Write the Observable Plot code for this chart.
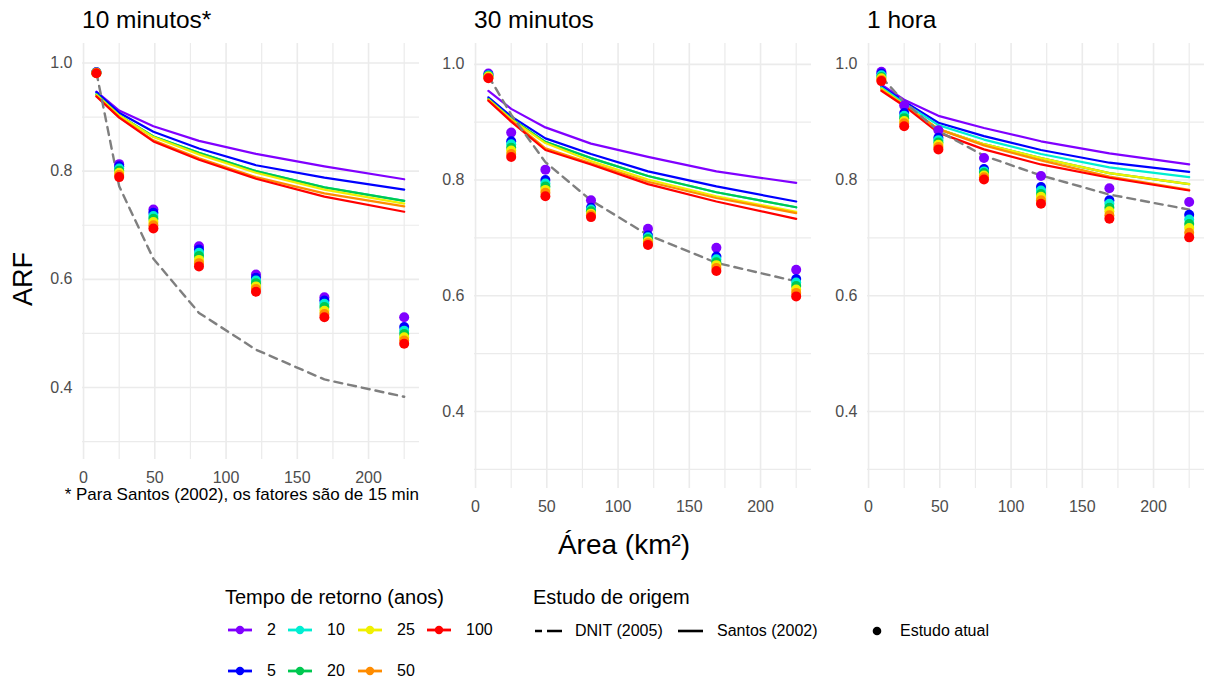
<!DOCTYPE html>
<html>
<head>
<meta charset="utf-8">
<script src="https://cdn.jsdelivr.net/npm/d3@7"></script>
<script src="https://cdn.jsdelivr.net/npm/@observablehq/plot@0.6"></script>
<style>
  html, body { margin: 0; padding: 0; background: #fff; }
  #chart { position: relative; width: 1206px; height: 684px; background: #fff; font-family: "Liberation Sans", Arial, sans-serif; overflow: hidden; }
  .abs { position: absolute; line-height: 1; white-space: nowrap; }
  .plotwrap { position: absolute; top: 0; }
</style>
</head>
<body>
<div id="chart"></div>
<script>
// ---------------- data ----------------
const areas = [9, 25, 49, 81, 121, 169, 225];
const returnPeriods = ["2", "5", "10", "20", "25", "50", "100"];
const rpColors = ["#8000FF", "#0000FF", "#00EED2", "#00C850", "#F0F000", "#FF8C00", "#FF0000"];
const panelTitles = ["10 minutos*", "30 minutos", "1 hora"];
const xMajorTicks = [0, 50, 100, 150, 200];
const xMinorTicks = [25, 75, 125, 175, 225];
const yMajorTicks = [0.4, 0.6, 0.8, 1.0];
const yMinorTicks = [0.3, 0.5, 0.7, 0.9];
const studyLabels = ["DNIT (2005)", "Santos (2002)", "Estudo atual"];

// Santos (2002): rows = return periods (2,5,10,20,25,50,100), columns = areas
const santos10 = [
  [0.947, 0.912, 0.883, 0.856, 0.832, 0.809, 0.785],
  [0.946, 0.908, 0.873, 0.842, 0.811, 0.788, 0.766],
  [0.942, 0.903, 0.864, 0.834, 0.800, 0.770, 0.745],
  [0.942, 0.903, 0.864, 0.834, 0.800, 0.770, 0.745],
  [0.941, 0.903, 0.863, 0.831, 0.797, 0.766, 0.740],
  [0.939, 0.900, 0.857, 0.824, 0.789, 0.759, 0.735],
  [0.938, 0.899, 0.855, 0.821, 0.786, 0.753, 0.725]
];
const santos30 = [
  [0.954, 0.923, 0.891, 0.863, 0.840, 0.815, 0.795],
  [0.943, 0.910, 0.872, 0.845, 0.815, 0.789, 0.763],
  [0.940, 0.906, 0.866, 0.838, 0.807, 0.779, 0.753],
  [0.940, 0.906, 0.866, 0.838, 0.807, 0.779, 0.753],
  [0.939, 0.905, 0.864, 0.833, 0.801, 0.772, 0.745],
  [0.938, 0.903, 0.855, 0.829, 0.797, 0.769, 0.743],
  [0.937, 0.901, 0.852, 0.827, 0.793, 0.763, 0.733]
];
const santos60 = [
  [0.965, 0.939, 0.911, 0.890, 0.867, 0.846, 0.827],
  [0.962, 0.936, 0.899, 0.876, 0.852, 0.830, 0.814],
  [0.960, 0.933, 0.895, 0.870, 0.845, 0.822, 0.805],
  [0.958, 0.930, 0.888, 0.862, 0.838, 0.812, 0.793],
  [0.958, 0.930, 0.888, 0.862, 0.838, 0.812, 0.793],
  [0.956, 0.929, 0.888, 0.860, 0.834, 0.806, 0.783],
  [0.954, 0.928, 0.882, 0.853, 0.827, 0.804, 0.782]
];

// DNIT (2005)
const dnit10 = [0.983, 0.772, 0.638, 0.538, 0.470, 0.415, 0.383];
const dnit30 = [0.980, 0.913, 0.831, 0.765, 0.705, 0.657, 0.625];
const dnit60 = [0.978, 0.935, 0.885, 0.842, 0.808, 0.775, 0.749];

// Estudo atual: rows = return periods, columns = areas
const atual10 = [
  [0.983, 0.813, 0.729, 0.661, 0.609, 0.567, 0.530],
  [0.983, 0.809, 0.723, 0.655, 0.603, 0.561, 0.512],
  [0.982, 0.805, 0.717, 0.649, 0.598, 0.555, 0.505],
  [0.982, 0.801, 0.712, 0.643, 0.593, 0.549, 0.499],
  [0.982, 0.797, 0.706, 0.636, 0.587, 0.542, 0.493],
  [0.981, 0.793, 0.700, 0.630, 0.582, 0.536, 0.487],
  [0.981, 0.789, 0.694, 0.624, 0.577, 0.530, 0.481]
];
const atual30 = [
  [0.984, 0.882, 0.818, 0.765, 0.716, 0.683, 0.645],
  [0.982, 0.867, 0.800, 0.752, 0.704, 0.668, 0.629],
  [0.981, 0.862, 0.794, 0.749, 0.701, 0.663, 0.623],
  [0.980, 0.856, 0.789, 0.746, 0.698, 0.658, 0.617],
  [0.979, 0.851, 0.783, 0.742, 0.694, 0.653, 0.611],
  [0.977, 0.845, 0.778, 0.739, 0.691, 0.648, 0.605],
  [0.976, 0.840, 0.772, 0.736, 0.688, 0.643, 0.599]
];
const atual60 = [
  [0.987, 0.929, 0.886, 0.838, 0.807, 0.786, 0.762],
  [0.984, 0.916, 0.873, 0.819, 0.788, 0.765, 0.740],
  [0.981, 0.911, 0.869, 0.815, 0.782, 0.759, 0.732],
  [0.978, 0.907, 0.865, 0.812, 0.776, 0.752, 0.724],
  [0.976, 0.902, 0.861, 0.808, 0.771, 0.746, 0.717],
  [0.973, 0.898, 0.857, 0.805, 0.765, 0.739, 0.709],
  [0.971, 0.893, 0.853, 0.801, 0.759, 0.733, 0.701]
];

// ---------------- build ----------------
const chart = document.getElementById("chart");
const FONT = '"Liberation Sans", Arial, sans-serif';

function toRows(matrix) {
  return returnPeriods.flatMap((T, j) => areas.map((a, k) => ({area: a, arf: matrix[j][k], T})));
}
function toLine(values) {
  return areas.map((a, k) => ({area: a, arf: values[k]}));
}

function makePanel(santos, dnit, atual, plotH) {
  const mL = 82, mT = 43, mB = 40;
  return Plot.plot({
    width: mL + 337,
    height: mT + plotH + mB,
    marginLeft: mL, marginRight: 0, marginTop: mT, marginBottom: mB,
    x: {domain: [-0.75, 235.75]},
    y: {domain: [0.267, 1.036]},
    color: {type: "ordinal", domain: returnPeriods, range: rpColors},
    style: {fontFamily: FONT, fontSize: "16px", color: "#4D4D4D", background: "transparent", overflow: "visible"},
    marks: [
      Plot.ruleX(xMinorTicks, {stroke: "#EBEBEB", strokeWidth: 1.2}),
      Plot.ruleX(xMajorTicks, {stroke: "#EBEBEB", strokeWidth: 1.6}),
      Plot.ruleY(yMinorTicks, {stroke: "#EBEBEB", strokeWidth: 1.2}),
      Plot.ruleY(yMajorTicks, {stroke: "#EBEBEB", strokeWidth: 1.6}),
      Plot.axisX({ticks: xMajorTicks, tickSize: 0, tickPadding: 12, label: null, fontSize: 16}),
      Plot.axisY({ticks: yMajorTicks, tickSize: 0, tickPadding: 10, label: null, fontSize: 16, tickFormat: d3.format(".1f")}),
      Plot.line(toRows(santos), {x: "area", y: "arf", z: "T", stroke: "T", strokeWidth: 2.2}),
      Plot.line(toLine(dnit), {x: "area", y: "arf", stroke: "#7F7F7F", strokeWidth: 2.4, strokeDasharray: "8,6"}),
      Plot.dot(toRows(atual), {x: "area", y: "arf", fill: "T", r: 5})
    ]
  });
}

const panels = [
  {left: 0, santos: santos10, dnit: dnit10, atual: atual10, h: 416},
  {left: 392, santos: santos30, dnit: dnit30, atual: atual30, h: 445},
  {left: 785, santos: santos60, dnit: dnit60, atual: atual60, h: 445}
];
panels.forEach((p, i) => {
  const wrap = document.createElement("div");
  wrap.className = "plotwrap";
  wrap.style.left = p.left + "px";
  wrap.appendChild(makePanel(p.santos, p.dnit, p.atual, p.h));
  chart.appendChild(wrap);
  const t = document.createElement("div");
  t.className = "abs";
  t.textContent = panelTitles[i];
  t.style.cssText += `left:${p.left + 82}px;top:8px;font-size:24.5px;color:#000;`;
  chart.appendChild(t);
});

function addText(txt, css) {
  const d = document.createElement("div");
  d.className = "abs";
  d.textContent = txt;
  d.style.cssText += css;
  chart.appendChild(d);
  return d;
}

// axis titles
addText("ARF", "left:23px;top:279px;font-size:27px;color:#000;transform:translate(-50%,-50%) rotate(-90deg);");
addText("Área (km²)", "left:624px;top:531px;font-size:28px;color:#000;transform:translateX(-50%);");
// caption
addText("* Para Santos (2002), os fatores são de 15 min", "right:" + (1206 - 419) + "px;top:486px;font-size:17px;color:#000;");

// legend: return periods
addText("Tempo de retorno (anos)", "left:225px;top:587px;font-size:20px;color:#000;");
const colX = [228, 288, 358, 427];
const rowY = [630, 671];
returnPeriods.forEach((T, i) => {
  const c = Math.floor(i / 2), r = i % 2;
  const x = colX[c], y = rowY[r];
  const svg = d3.create("svg").attr("width", 24).attr("height", 12)
    .style("position", "absolute").style("left", x + "px").style("top", (y - 6) + "px");
  svg.append("line").attr("x1", 0).attr("x2", 24).attr("y1", 6).attr("y2", 6)
    .attr("stroke", rpColors[i]).attr("stroke-width", 2.8);
  svg.append("circle").attr("cx", 12).attr("cy", 6).attr("r", 4.2).attr("fill", rpColors[i]);
  chart.appendChild(svg.node());
  addText(T, `left:${x + 39}px;top:${y - 8}px;font-size:16px;color:#000;`);
});

// legend: study
addText("Estudo de origem", "left:533px;top:587px;font-size:20px;color:#000;");
{
  const y = 631;
  const s1 = d3.create("svg").attr("width", 28).attr("height", 10)
    .style("position", "absolute").style("left", "535px").style("top", (y - 5) + "px");
  s1.append("line").attr("x1", 0).attr("x2", 27).attr("y1", 5).attr("y2", 5)
    .attr("stroke", "#000").attr("stroke-width", 2.6).attr("stroke-dasharray", "7,5,15,5");
  chart.appendChild(s1.node());
  addText(studyLabels[0], `left:575px;top:${y - 8}px;font-size:16px;color:#000;`);
  const s2 = d3.create("svg").attr("width", 26).attr("height", 10)
    .style("position", "absolute").style("left", "678px").style("top", (y - 5) + "px");
  s2.append("line").attr("x1", 0).attr("x2", 25).attr("y1", 5).attr("y2", 5)
    .attr("stroke", "#000").attr("stroke-width", 2.6);
  chart.appendChild(s2.node());
  addText(studyLabels[1], `left:717px;top:${y - 8}px;font-size:16px;color:#000;`);
  const s3 = d3.create("svg").attr("width", 12).attr("height", 12)
    .style("position", "absolute").style("left", "871px").style("top", (y - 6) + "px");
  s3.append("circle").attr("cx", 6).attr("cy", 6).attr("r", 4.3).attr("fill", "#000");
  chart.appendChild(s3.node());
  addText(studyLabels[2], `left:900px;top:${y - 8}px;font-size:16px;color:#000;`);
}
</script>
</body>
</html>
